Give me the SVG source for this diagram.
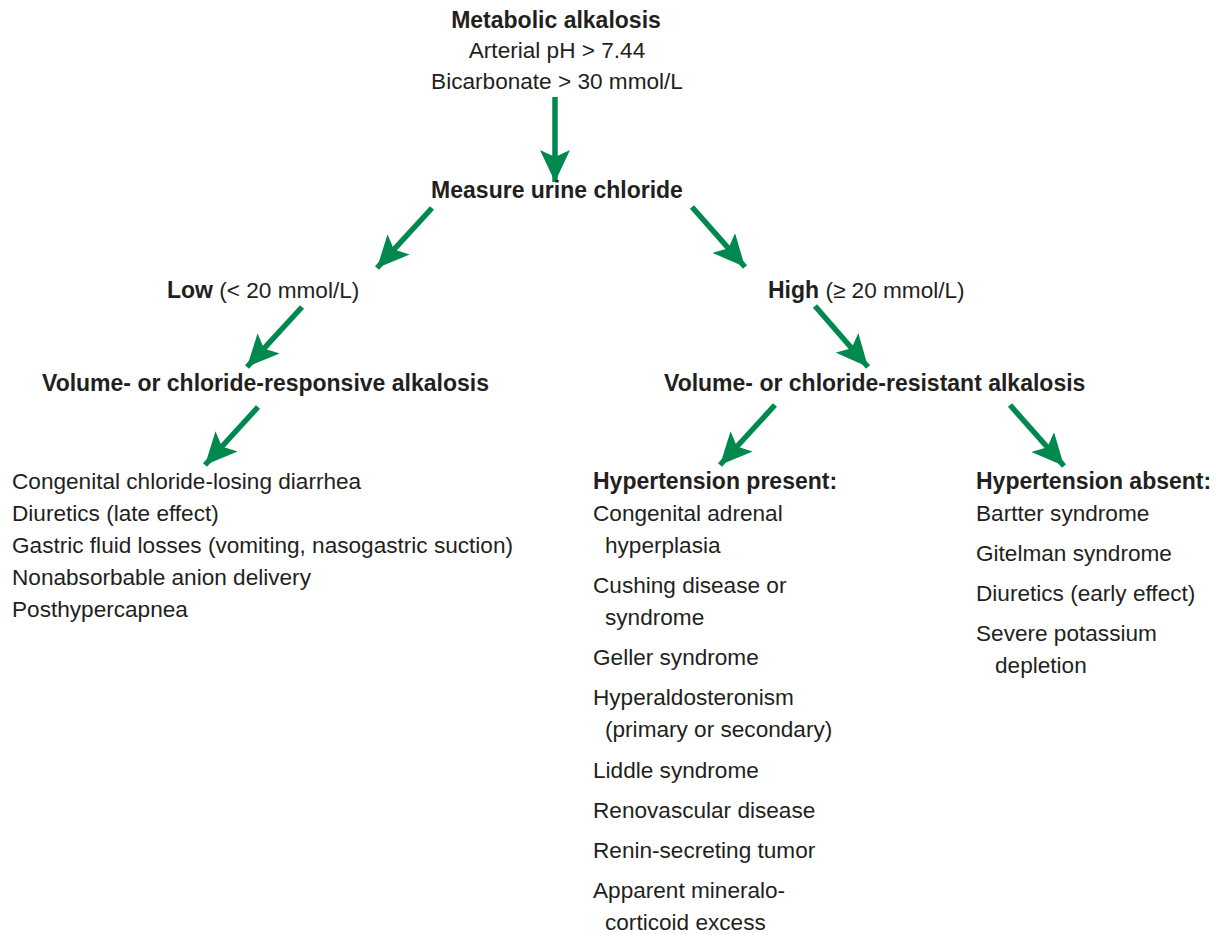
<svg xmlns="http://www.w3.org/2000/svg" width="1215" height="934" viewBox="0 0 1215 934">
<style>
text{font-family:"Liberation Sans",Arial,sans-serif;font-size:22.6px;fill:#231f20}
.b{font-weight:bold;font-size:23px}
.c{text-anchor:middle}
.arr{stroke:#00894f;stroke-width:5.5;fill:none;marker-end:url(#ah)}
</style>
<defs>
<marker id="ah" markerUnits="userSpaceOnUse" markerWidth="32" markerHeight="30" viewBox="0 0 32 30" refX="32" refY="15" orient="auto">
<path d="M0,0 L32,15 L0,30 L7,15 Z" fill="#00894f"/>
</marker>
</defs>
<g id="connectors">
<line class="arr" x1="555" y1="97" x2="555" y2="182"/>
<line class="arr" x1="432" y1="208" x2="377" y2="268"/>
<line class="arr" x1="692" y1="207" x2="745" y2="267"/>
<line class="arr" x1="302" y1="307" x2="247" y2="367"/>
<line class="arr" x1="815" y1="306" x2="868" y2="367"/>
<line class="arr" x1="258" y1="407" x2="205" y2="465"/>
<line class="arr" x1="775" y1="405" x2="720" y2="465"/>
<line class="arr" x1="1010" y1="405" x2="1064" y2="466"/>
</g>
<g id="start">
<text class="b c" x="556" y="28">Metabolic alkalosis</text>
<text class="c" x="557" y="58">Arterial pH &gt; 7.44</text>
<text class="c" x="557" y="89">Bicarbonate &gt; 30 mmol/L</text>
</g>
<g id="measure">
<text class="b c" x="557" y="198">Measure urine chloride</text>
</g>
<g id="low">
<text x="167" y="298"><tspan class="b">Low</tspan> (&lt; 20 mmol/L)</text>
</g>
<g id="high">
<text x="768" y="298"><tspan class="b">High</tspan> (≥ 20 mmol/L)</text>
</g>
<g id="responsive">
<text class="b" x="42" y="391">Volume- or chloride-responsive alkalosis</text>
</g>
<g id="resistant">
<text class="b" x="664" y="391">Volume- or chloride-resistant alkalosis</text>
</g>
<g id="responsive-list">
<text x="12" y="489">Congenital chloride-losing diarrhea</text>
<text x="12" y="521">Diuretics (late effect)</text>
<text x="12" y="553">Gastric fluid losses (vomiting, nasogastric suction)</text>
<text x="12" y="585">Nonabsorbable anion delivery</text>
<text x="12" y="617">Posthypercapnea</text>
</g>
<g id="htn-present">
<text class="b" x="593" y="489">Hypertension present:</text>
<text x="593" y="521">Congenital adrenal</text>
<text x="605" y="553">hyperplasia</text>
<text x="593" y="593">Cushing disease or</text>
<text x="605" y="625">syndrome</text>
<text x="593" y="665">Geller syndrome</text>
<text x="593" y="705">Hyperaldosteronism</text>
<text x="605" y="737">(primary or secondary)</text>
<text x="593" y="778">Liddle syndrome</text>
<text x="593" y="818">Renovascular disease</text>
<text x="593" y="858">Renin-secreting tumor</text>
<text x="593" y="898">Apparent mineralo-</text>
<text x="605" y="930">corticoid excess</text>
</g>
<g id="htn-absent">
<text class="b" x="976" y="489">Hypertension absent:</text>
<text x="976" y="521">Bartter syndrome</text>
<text x="976" y="561">Gitelman syndrome</text>
<text x="976" y="601">Diuretics (early effect)</text>
<text x="976" y="641">Severe potassium</text>
<text x="995" y="673">depletion</text>
</g>
</svg>
